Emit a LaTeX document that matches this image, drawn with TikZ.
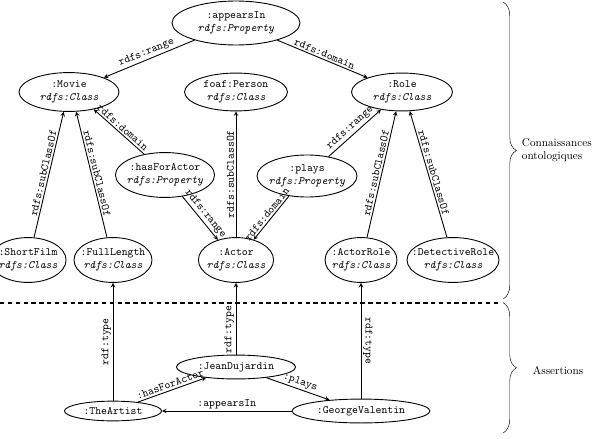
\documentclass[tikz,border=0pt]{standalone}
\usetikzlibrary{shapes.geometric,decorations.pathreplacing}

\begin{document}
\begin{tikzpicture}[x=0.0314cm, y=-0.0314cm, >=stealth,
    noeud/.style={ellipse, draw, thick, inner xsep=-20pt, inner ysep=0pt, align=center, font=\ttfamily},
    lien/.style={->, thick},
    etiq/.style={font=\ttfamily, sloped, above, inner sep=1.5pt}]
    \useasboundingbox (0,0) rectangle (594,438);

    % Ontology
    \node[noeud, minimum width=4.02cm, minimum height=1.38cm] (appearsIn) at (236,23) {:appearsIn\\\textit{rdfs:Property}};
    \node[noeud, minimum width=3.14cm, minimum height=1.22cm] (Movie) at (69,92) {:Movie\\\textit{rdfs:Class}};
    \node[noeud, minimum width=3.23cm, minimum height=1.19cm] (Person) at (236,92) {foaf:Person\\\textit{rdfs:Class}};
    \node[noeud, minimum width=3.17cm, minimum height=1.19cm] (Role) at (402,92) {:Role\\\textit{rdfs:Class}};
    \node[noeud, minimum width=3.11cm, minimum height=1.41cm] (hasForActor) at (165,175) {:hasForActor\\\textit{rdfs:Property}};
    \node[noeud, minimum width=3.14cm, minimum height=1.32cm] (plays) at (307,176) {:plays\\\textit{rdfs:Property}};
    \node[noeud, minimum width=2.39cm, minimum height=1.41cm] (ShortFilm) at (28,260) {:ShortFilm\\\textit{rdfs:Class}};
    \node[noeud, minimum width=2.45cm, minimum height=1.41cm] (FullLength) at (113,260) {:FullLength\\\textit{rdfs:Class}};
    \node[noeud, minimum width=2.36cm, minimum height=1.41cm] (Actor) at (236,260) {:Actor\\\textit{rdfs:Class}};
    \node[noeud, minimum width=2.26cm, minimum height=1.41cm] (ActorRole) at (361,260) {:ActorRole\\\textit{rdfs:Class}};
    \node[noeud, minimum width=2.89cm, minimum height=1.41cm] (DetectiveRole) at (453,260) {:DetectiveRole\\\textit{rdfs:Class}};

    \draw[lien] (appearsIn) -- node[etiq] {rdfs:range} (Movie);
    \draw[lien] (appearsIn) -- node[etiq] {rdfs:domain} (Role);
    \draw[lien] (ShortFilm.75) -- node[etiq] {rdfs:subClassOf} (Movie.-105);
    \draw[lien] (FullLength.105) -- node[etiq] {rdfs:subClassOf} (Movie.-70);
    \draw[lien] (hasForActor.135) -- node[etiq] {rdfs:domain} (Movie.-35);
    \draw[lien] (hasForActor.-51) -- node[etiq] {rdfs:range} (Actor.132);
    \draw[lien] (Actor) -- node[etiq] {rdfs:subClassOf} (Person);
    \draw[lien] (plays.-132) -- node[etiq] {rdfs:domain} (Actor.49);
    \draw[lien] (plays.42) -- node[etiq] {rdfs:range} (Role.-140);
    \draw[lien] (ActorRole.75) -- node[etiq] {rdfs:subClassOf} (Role.-107);
    \draw[lien] (DetectiveRole.105) -- node[etiq] {rdfs:subClassOf} (Role.-68);

    % Separator
    \coordinate (sepG) at (0,303);
    \coordinate (sepD) at (498,303);
    \draw[very thick, dash pattern=on 4pt off 3pt] (sepG) -- (sepD);

    % Assertions
    \node[noeud, minimum width=3.74cm, minimum height=0.75cm] (JeanDujardin) at (236,367) {:JeanDujardin};
    \node[noeud, minimum width=3.05cm, minimum height=0.62cm] (TheArtist) at (113,411) {:TheArtist};
    \node[noeud, minimum width=4.33cm, minimum height=0.75cm] (GeorgeValentin) at (361,411) {:GeorgeValentin};

    \draw[lien] (TheArtist) -- node[etiq] {rdf:type} (FullLength);
    \draw[lien] (JeanDujardin) -- node[etiq, pos=0.35] {rdf:type} (Actor);
    \draw[<-, thick] (ActorRole) -- node[etiq] {rdf:type} (GeorgeValentin);
    \draw[lien] (TheArtist) -- node[etiq] {:hasForActor} (JeanDujardin);
    \draw[lien] (JeanDujardin) -- node[etiq] {:plays} (GeorgeValentin);
    \draw[lien] (GeorgeValentin) -- node[etiq] {:appearsIn} (TheArtist);

    % Braces
    \coordinate (accH) at (503,2);
    \coordinate (accM) at (503,299);
    \coordinate (accB) at (503,433);
    \draw[decorate, decoration={brace, amplitude=12pt}] (accH) -- (accM);
    \draw[decorate, decoration={brace, amplitude=12pt}] ([yshift=-8\pgflinewidth]accM) -- (accB);
    \node[right, align=left] (connaissances) at (518,150) {Connaissances\\ontologiques};
    \node[right] (assertions) at (529,371) {Assertions};
\end{tikzpicture}
\end{document}
